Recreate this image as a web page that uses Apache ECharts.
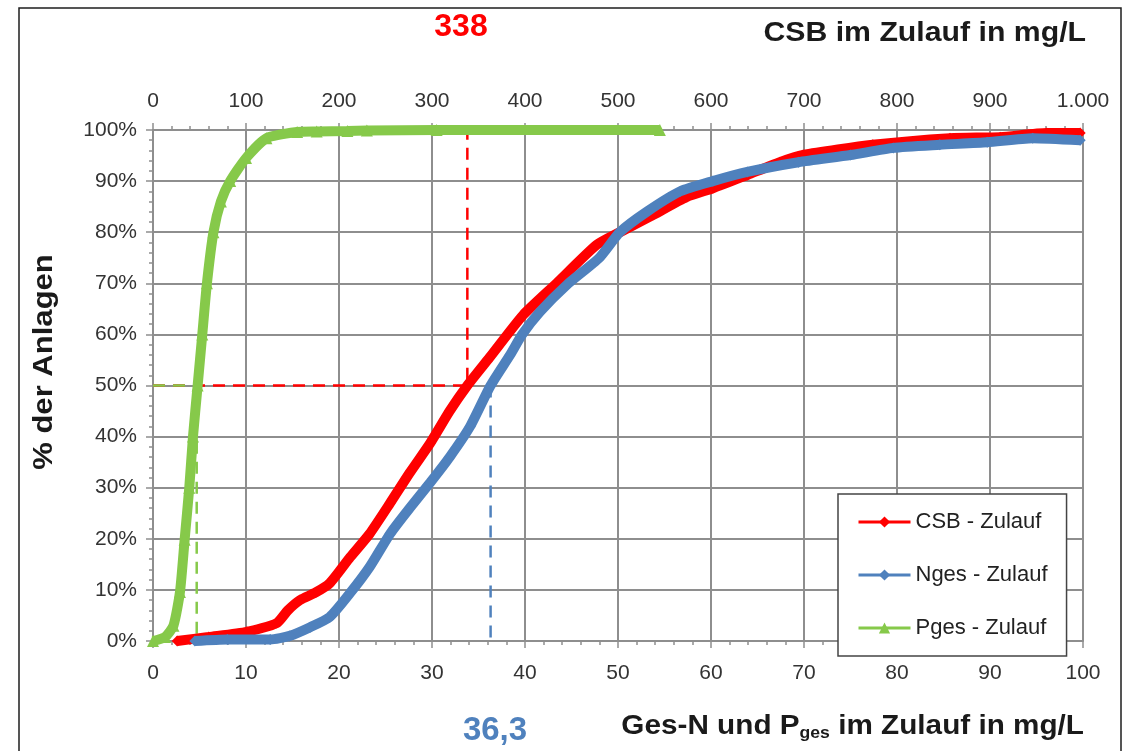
<!DOCTYPE html>
<html>
<head>
<meta charset="utf-8">
<script src="https://cdn.jsdelivr.net/npm/echarts@6.0.0/dist/echarts.min.js"></script>
<style>
  html, body { margin: 0; background: #fff; }
  #chart { width: 1132px; height: 751px; }
</style>
</head>
<body>
<div id="chart"></div>
<script>
// CSB im Zulauf (obere Achse, mg/L) -> % der Anlagen
const csbMg  = [26, 60, 101, 133, 145, 158, 175, 190, 212, 233, 255, 276, 298, 319, 338, 362, 398, 434, 477, 502, 538, 574, 602, 639, 674, 699, 774, 857, 911, 961, 997];
const csbPct = [0, 0.8, 1.8, 3.5, 6, 8, 9.5, 11.3, 16.4, 21, 27, 32.9, 38.7, 45, 50, 55.5, 63.8, 70, 77.5, 80, 83.4, 86.9, 88.6, 91.2, 93.7, 95.1, 97.1, 98.4, 98.6, 99.4, 99.4];

// Nges im Zulauf (untere Achse, mg/L)
const nMg  = [4.5, 8, 12.6, 14.7, 16.9, 19, 21.2, 23.3, 25.5, 27.6, 29.8, 31.9, 34.1, 36.3, 38.4, 39.7, 41.6, 44.5, 48, 50.2, 53.1, 56.7, 60.2, 63.9, 69.4, 75, 79.6, 84.6, 89.7, 94.6, 99.7];
const nPct = [0, 0.3, 0.3, 1, 2.7, 4.7, 9.4, 14.5, 21, 26, 31, 36, 42, 50, 56, 60, 64.4, 69.7, 75, 80, 84, 88, 90, 91.8, 93.7, 95.1, 96.5, 97.1, 97.6, 98.4, 98];

// Pges im Zulauf (untere Achse, mg/L)
const pMg  = [0, 1.3, 2.2, 2.9, 3.4, 3.9, 4.3, 4.8, 5.3, 5.8, 6.5, 7.3, 8.3, 10, 12.2, 15.5, 17.6, 20.9, 23, 30.5, 54.5];
const pPct = [0, 0.8, 3, 9.6, 19.8, 30, 40, 50, 60, 70, 80, 86, 90, 94.5, 98.4, 99.6, 99.7, 99.8, 99.9, 100, 100];

// Medianwerte
const csbMedian = 338;
const nMedian = 36.3;
const pMedian = 4.7;

const topTickLabels = ['0', '100', '200', '300', '400', '500', '600', '700', '800', '900', '1.000'];
const bottomTickLabels = ['0', '10', '20', '30', '40', '50', '60', '70', '80', '90', '100'];
const yTickLabels = ['0%', '10%', '20%', '30%', '40%', '50%', '60%', '70%', '80%', '90%', '100%'];

const zip = (xs, ys) => xs.map((x, i) => [x, ys[i]]);

const RED = '#ff0000';
const BLUE = '#4f81bd';
const GREEN = '#86c94a';
const GRIDC = '#8e8e8e';
const FONT = "'Liberation Sans', Arial, sans-serif";

const chart = echarts.init(document.getElementById('chart'), null, { renderer: 'canvas' });

const tickLabel = { color: '#333', fontSize: 21, fontFamily: FONT };

const option = {
  backgroundColor: '#fff',
  animation: false,
  grid: { left: 153, right: 49, top: 130, bottom: 110, containLabel: false },
  legend: {
    data: ['CSB - Zulauf', 'Nges - Zulauf', 'Pges - Zulauf'],
    orient: 'vertical',
    left: 838,
    top: 494,
    padding: [17, 19, 17, 19],
    itemGap: 31,
    itemWidth: 52,
    itemHeight: 14,
    backgroundColor: '#fff',
    borderColor: '#444',
    borderWidth: 1.5,
    borderRadius: 0,
    lineStyle: { width: 3 },
    textStyle: { fontSize: 22, color: '#222', fontFamily: FONT }
  },
  xAxis: [
    {
      type: 'value',
      position: 'bottom',
      min: 0, max: 100, interval: 10,
      axisLine: { show: true, lineStyle: { color: GRIDC, width: 2 } },
      axisTick: { show: true, length: 7, lineStyle: { color: GRIDC, width: 1.5 } },
      minorTick: { show: true, splitNumber: 5, length: 4, lineStyle: { color: GRIDC, width: 1.5 } },
      splitLine: { show: true, lineStyle: { color: GRIDC, width: 2 } },
      axisLabel: {
        ...tickLabel, margin: 22,
        formatter: v => bottomTickLabels[Math.round(v / 10)]
      }
    },
    {
      type: 'value',
      position: 'top',
      min: 0, max: 1000, interval: 100,
      axisLine: { show: true, lineStyle: { color: GRIDC, width: 2 } },
      axisTick: { show: true, length: 7, lineStyle: { color: GRIDC, width: 1.5 } },
      minorTick: { show: true, splitNumber: 5, length: 4, lineStyle: { color: GRIDC, width: 1.5 } },
      splitLine: { show: false },
      axisLabel: {
        ...tickLabel, margin: 18,
        formatter: v => topTickLabels[Math.round(v / 100)]
      }
    }
  ],
  yAxis: {
    type: 'value',
    min: 0, max: 100, interval: 10,
    axisLine: { show: true, lineStyle: { color: GRIDC, width: 2 } },
    axisTick: { show: true, length: 7, lineStyle: { color: GRIDC, width: 1.5 } },
    minorTick: { show: true, splitNumber: 5, length: 4, lineStyle: { color: GRIDC, width: 1.5 } },
    splitLine: { show: true, lineStyle: { color: GRIDC, width: 2 } },
    axisLabel: {
      ...tickLabel, margin: 16,
      formatter: v => yTickLabels[Math.round(v / 10)]
    }
  },
  series: [
    // Hilfslinien (Median)
    {
      type: 'line', xAxisIndex: 1, silent: true, symbol: 'none', z: 2,
      data: [[0, 50], [csbMedian, 50], [csbMedian, 100]],
      lineStyle: { color: RED, width: 2.5, type: [12, 8] }
    },
    {
      type: 'line', xAxisIndex: 0, silent: true, symbol: 'none', z: 2,
      data: [[nMedian, 50], [nMedian, 0]],
      lineStyle: { color: BLUE, width: 2.5, type: [12, 8] }
    },
    {
      type: 'line', xAxisIndex: 0, silent: true, symbol: 'none', z: 2,
      data: [[0, 50], [pMedian, 50], [pMedian, 0]],
      lineStyle: { color: GREEN, width: 2.5, type: [12, 8] }
    },
    // Summenkurven
    {
      name: 'CSB - Zulauf', type: 'line', xAxisIndex: 1, z: 3,
      data: zip(csbMg, csbPct),
      smooth: 0.2,
      symbol: 'diamond', symbolSize: 11,
      lineStyle: { color: RED, width: 10 },
      itemStyle: { color: RED }
    },
    {
      name: 'Nges - Zulauf', type: 'line', xAxisIndex: 0, z: 4,
      data: zip(nMg, nPct),
      smooth: 0.2,
      symbol: 'diamond', symbolSize: 11,
      lineStyle: { color: BLUE, width: 10 },
      itemStyle: { color: BLUE }
    },
    {
      name: 'Pges - Zulauf', type: 'line', xAxisIndex: 0, z: 5,
      data: zip(pMg, pPct),
      smooth: 0.2,
      symbol: 'triangle', symbolSize: 12,
      lineStyle: { color: GREEN, width: 10 },
      itemStyle: { color: GREEN }
    }
  ],
  graphic: [
    {
      type: 'rect', silent: true, z: 100,
      shape: { x: 19, y: 8, width: 1102, height: 770 },
      style: { fill: 'none', stroke: '#1e1e1e', lineWidth: 1.5 }
    },
    {
      type: 'text', x: 461, y: 27, z: 100,
      style: { text: '338', fill: RED, font: "bold 32px " + FONT, align: 'center', verticalAlign: 'middle' }
    },
    {
      type: 'text', x: 1086, y: 33, z: 100, scaleX: 1.08,
      style: { text: 'CSB im Zulauf in mg/L', fill: '#1a1a1a', font: "bold 28px " + FONT, align: 'right', verticalAlign: 'middle' }
    },
    {
      type: 'text', x: 495, y: 731, z: 100,
      style: { text: '36,3', fill: BLUE, font: "bold 33px " + FONT, align: 'center', verticalAlign: 'middle' }
    },
    {
      type: 'text', x: 1084, y: 727, z: 100, scaleX: 1.1,
      style: {
        text: '{a|Ges-N und P}{s|ges}{a| im Zulauf in mg/L}',
        align: 'right', verticalAlign: 'middle',
        rich: {
          a: { fill: '#1a1a1a', fontSize: 27, fontWeight: 'bold', fontFamily: FONT },
          s: { fill: '#1a1a1a', fontSize: 16, fontWeight: 'bold', fontFamily: FONT, padding: [14, 0, 0, 0] }
        }
      }
    },
    {
      type: 'text', x: 45, y: 362, rotation: Math.PI / 2, z: 100, scaleX: 1.15,
      style: { text: '% der Anlagen', fill: '#1a1a1a', font: "bold 27px " + FONT, align: 'center', verticalAlign: 'middle' }
    }
  ]
};

chart.setOption(option);
window.addEventListener('resize', () => chart.resize());
</script>
</body>
</html>
